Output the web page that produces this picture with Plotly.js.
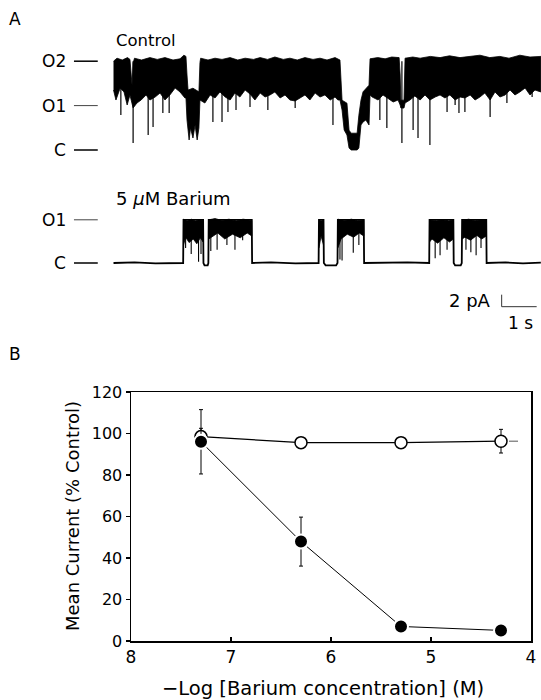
<!DOCTYPE html>
<html><head><meta charset="utf-8">
<script src="https://cdn.plot.ly/plotly-3.0.1.min.js"></script>
<style>html,body{margin:0;padding:0;background:#fff;} #chart{width:541px;height:700px;}</style>
</head><body><div id="chart"></div>
<script>
// ---------- Panel A: single-channel records (time in s, current in pA above closed level) ----------
const ctrlLevelNames = ['O2', 'O1', 'C'];
const ctrlLevels = [14.8, 7.4, 0];
const barLevelNames = ['O1', 'C'];
const barLevels = [7.2, 0];

// Control record: upper edge of the open-channel band
const ctrlTopT = [0.00,0.10,0.25,0.40,0.47,0.50,0.53,0.56,0.60,0.80,1.04,1.25,1.47,1.70,1.90,2.01,2.07,2.10,2.13,2.27,2.44,2.47,2.49,2.70,2.90,3.10,3.33,3.55,3.76,4.00,4.19,4.40,4.61,4.85,5.04,5.25,5.47,5.70,5.90,6.10,6.33,6.47,6.53,6.67,6.73,6.79,6.96,7.01,7.07,7.13,7.21,7.30,7.33,7.55,7.76,7.95,8.16,8.19,8.21,8.30,8.33,8.55,8.76,9.05,9.33,9.60,9.90,10.20,10.47,10.75,11.04,11.30,11.61,11.90,12.21];
const ctrlTopI = [14.8,15.3,15.0,15.4,15.1,12.5,10.8,14.5,15.3,15.0,15.4,15.1,15.4,15.0,15.2,15.8,15.6,12.5,10.0,10.3,9.7,14.6,15.3,15.0,15.3,15.1,15.4,15.0,15.3,15.1,15.4,15.1,15.5,15.1,15.3,15.0,15.4,15.1,15.3,15.0,15.4,15.0,8.3,7.8,3.3,2.8,2.8,5.8,8.3,9.7,10.3,10.8,15.2,15.4,15.2,15.5,15.4,12.5,8.3,8.3,15.3,15.5,15.3,15.6,15.4,15.7,15.4,15.6,15.8,15.4,15.6,15.3,15.8,15.5,15.6];
// Control record: lower (flickering) edge of the band
const ctrlBotT = [0.00,0.07,0.19,0.30,0.39,0.47,0.56,0.67,0.79,0.93,1.04,1.19,1.33,1.47,1.61,1.76,1.90,2.04,2.07,2.10,2.16,2.20,2.27,2.33,2.39,2.44,2.47,2.61,2.76,2.90,3.04,3.19,3.33,3.47,3.61,3.76,3.90,4.04,4.19,4.33,4.47,4.61,4.76,4.90,5.04,5.19,5.33,5.47,5.61,5.76,5.90,6.04,6.19,6.33,6.41,6.47,6.53,6.59,6.67,6.73,6.79,6.96,7.01,7.07,7.13,7.21,7.30,7.33,7.39,7.56,7.70,7.84,7.99,8.13,8.19,8.21,8.30,8.33,8.47,8.61,8.76,8.90,9.04,9.19,9.33,9.47,9.61,9.76,9.90,10.04,10.19,10.33,10.47,10.61,10.76,10.90,11.04,11.19,11.33,11.47,11.61,11.76,11.90,12.04,12.21];
const ctrlBotI = [10.0,8.33,10.33,9.67,7.5,9.17,7.0,7.83,8.33,9.17,8.33,8.83,9.5,8.33,9.17,10.33,9.67,8.67,8.67,5.0,1.67,3.67,2.0,4.17,1.67,3.67,8.33,7.83,9.17,8.67,9.67,8.83,8.33,9.5,8.83,10.0,9.33,8.33,9.5,8.83,9.17,9.67,8.67,9.17,8.33,8.17,8.67,9.17,8.33,9.5,8.83,9.17,8.33,8.83,8.33,8.33,6.67,3.33,2.5,0.33,0,0,0.33,4.17,4.67,5.0,4.17,9.17,8.83,8.33,9.17,8.67,8.0,8.33,7.5,7.0,7.0,7.83,8.33,9.0,8.33,9.17,8.33,8.83,9.17,8.67,9.17,8.33,8.83,8.67,9.17,8.33,8.83,9.5,8.33,9.67,8.83,9.17,10.0,9.17,9.67,10.33,9.17,10.0,9.67];
// Control record: brief deep closings (time, lowest current)
const ctrlSpikeT = [0.21,0.56,0.99,1.13,1.41,1.59,2.84,3.10,3.27,3.50,3.90,4.41,5.19,6.27,7.61,7.81,8.24,8.56,8.70,9.04,9.53,9.76,9.87,10.04,10.76,11.24,11.96];
const ctrlSpikeI = [5.83,1.17,2.5,3.83,6.17,6.17,4.67,4.67,6.33,6.67,7.17,6.67,7.0,4.17,5.0,3.67,1.17,3.33,2.0,0.83,6.33,7.5,6.17,6.33,5.5,7.83,8.83];

// 5 uM barium record: main step trace
const barLineT = [0,0.6,1.2,1.99,2.00,2.56,2.57,2.60,2.69,2.71,2.72,3.95,3.96,4.5,5.2,5.86,5.87,6.00,6.01,6.06,6.36,6.40,6.41,7.15,7.16,7.8,8.4,9.02,9.03,9.71,9.72,9.76,9.92,9.95,9.96,10.65,10.66,11.2,11.7,12.21];
const barLineI = [0,0.1,-0.05,0,7.2,7.2,0,-0.4,-0.4,0,7.2,7.2,0,0.1,-0.05,0,7.2,7.2,0,-0.4,-0.4,0,7.2,7.2,0,0.05,0.1,0,7.2,7.2,0,-0.4,-0.4,0,7.2,7.2,0,0.1,-0.05,0.05];
// flicker envelopes of the bursts
const barBurstT = [2.00,2.10,2.22,2.34,2.46,2.56, 2.56,2.48,2.38,2.28,2.16,2.06,2.00, null,
  2.72,2.90,3.10,3.30,3.50,3.70,3.95, 3.95,3.82,3.62,3.40,3.18,2.98,2.80,2.72, null,
  5.87,5.93,6.00, 6.00,5.93,5.87, null,
  6.41,6.60,6.80,7.00,7.15, 7.15,7.02,6.86,6.68,6.50,6.41, null,
  9.03,9.20,9.40,9.58,9.71, 9.71,9.60,9.44,9.26,9.10,9.03, null,
  9.96,10.15,10.35,10.50,10.65, 10.65,10.52,10.38,10.20,10.04,9.96];
const barBurstI = [7.3,7.0,7.3,7.0,7.2,7.1, 3.5,4.2,3.2,4.0,3.4,4.3,3.0, null,
  7.2,7.4,7.1,7.3,7.0,7.3,7.1, 4.5,5.0,4.2,4.8,4.0,5.0,4.3,4.0, null,
  7.2,7.0,7.2, 3.0,4.5,2.5, null,
  7.3,7.1,7.3,7.0,7.2, 4.5,5.0,4.3,4.8,4.0,2.5, null,
  7.2,7.0,7.2,7.0,7.2, 4.0,3.5,4.2,3.3,4.0,3.5, null,
  7.1,7.3,7.0,7.2,7.2, 4.5,4.0,4.6,3.8,4.3,4.0];
const barSpikeT = [2.06,2.22,2.43,2.50,2.78,2.96,3.24,3.47,3.69,6.47,6.53,6.85,7.01,9.19,9.33,9.53,10.07,10.21,10.36,10.50];
const barSpikeI = [2.5,1.5,0.2,1.5,2.0,2.2,3.0,2.2,3.8,0.6,0.4,1.7,3.0,0.8,1.3,2.2,2.2,1.8,1.3,2.5];

// calibration bar: 1 s by 2 pA
const scaleT = [11.09, 11.09, 12.09];
const scaleI = [-5.28, -7.28, -7.28];

// ---------- Panel B: dose-response ----------
const logConc = [7.3, 6.3, 5.3, 4.3];
const openY = [98.5, 95.6, 95.6, 96.3];
const openErr = [4, 0, 0, 5.7];
const filledY = [96, 47.9, 7.0, 5.1];
const filledErr = [15.5, 11.8, 0, 0];
const openTailX = [4.22, 4.07];
const openTailY = [96.3, 96.3];
const xTicks = [8, 7, 6, 5, 4];
const yTicks = [0, 20, 40, 60, 80, 100, 120];

// ---------- build ----------
const polyT = ctrlTopT.concat(ctrlBotT.slice().reverse());
const polyI = ctrlTopI.concat(ctrlBotI.slice().reverse());
function spikes(ts, is, top) {
  const x = [], y = [];
  ts.forEach((t, k) => { x.push(t, t, null); y.push(top, is[k], null); });
  return {x, y};
}
const cs = spikes(ctrlSpikeT, ctrlSpikeI, ctrlLevels[0]);
const bs = spikes(barSpikeT, barSpikeI, barLevels[0]);

const traces = [
  {x: polyT, y: polyI, xaxis:'x', yaxis:'y', mode:'lines', fill:'toself', fillcolor:'#000', line:{color:'#000', width:0.8}, hoverinfo:'skip'},
  {x: cs.x, y: cs.y, xaxis:'x', yaxis:'y', mode:'lines', line:{color:'#000', width:1.2}, hoverinfo:'skip'},
  {x: barBurstT, y: barBurstI, xaxis:'x', yaxis:'y3', mode:'lines', fill:'toself', fillcolor:'#000', line:{color:'#000', width:0.8}, hoverinfo:'skip'},
  {x: bs.x, y: bs.y, xaxis:'x', yaxis:'y3', mode:'lines', line:{color:'#000', width:1.1}, hoverinfo:'skip'},
  {x: barLineT, y: barLineI, xaxis:'x', yaxis:'y3', mode:'lines', line:{color:'#000', width:1.8}, hoverinfo:'skip'},
  {x: scaleT, y: scaleI, xaxis:'x', yaxis:'y3', mode:'lines', line:{color:'#333', width:1}, hoverinfo:'skip'},
  // panel B
  {x: openTailX, y: openTailY, xaxis:'x2', yaxis:'y2', mode:'lines', line:{color:'#555', width:1, dash:'dash'}, hoverinfo:'skip'},
  {x: logConc, y: openY, xaxis:'x2', yaxis:'y2', mode:'lines+markers',
   line:{color:'#000', width:1.2},
   marker:{symbol:'circle', size:12, color:'#fff', line:{color:'#000', width:1.5}},
   error_y:{type:'data', array:openErr, visible:true, color:'#000', thickness:1, width:2}},
  {x: logConc, y: filledY, xaxis:'x2', yaxis:'y2', mode:'lines+markers',
   line:{color:'#000', width:1},
   marker:{symbol:'circle', size:14, color:'#000', line:{color:'#fff', width:2}},
   error_y:{type:'data', array:filledErr, visible:true, color:'#000', thickness:1, width:2}}
];

const shapes = [];
const annotations = [];
const lvlX0 = -1.13, lvlX1 = -0.45, lblX = -1.30;
const lvlFont = {size:17};
ctrlLevels.forEach((v, k) => {
  const thin = ctrlLevelNames[k] === 'O1';
  shapes.push({type:'line', xref:'x', yref:'y', x0:lvlX0, x1:lvlX1, y0:v, y1:v, line:{color: thin ? '#444' : '#000', width: thin ? 1 : 1.5}});
  annotations.push({xref:'x', yref:'y', x:lblX, y:v, text:ctrlLevelNames[k], showarrow:false, xanchor:'right', yanchor:'middle', font:lvlFont});
});
barLevels.forEach((v, k) => {
  const thin = barLevelNames[k] === 'O1';
  shapes.push({type:'line', xref:'x', yref:'y3', x0:lvlX0, x1:lvlX1, y0:v, y1:v, line:{color: thin ? '#444' : '#000', width: thin ? 1 : 1.5}});
  annotations.push({xref:'x', yref:'y3', x:lblX, y:v, text:barLevelNames[k], showarrow:false, xanchor:'right', yanchor:'middle', font:lvlFont});
});
annotations.push(
  {xref:'x', yref:'y', x:0, y:18.3, text:'Control', showarrow:false, xanchor:'left', yanchor:'middle', font:{size:16.5}},
  {xref:'x', yref:'y3', x:0, y:10.83, text:'5 <i>μ</i>M Barium', showarrow:false, xanchor:'left', yanchor:'middle', font:{size:18}},
  {xref:'x', yref:'y3', x:10.83, y:-6.17, text:'2 pA', showarrow:false, xanchor:'right', yanchor:'middle', font:{size:18}},
  {xref:'x', yref:'y3', x:11.63, y:-10.0, text:'1 s', showarrow:false, xanchor:'center', yanchor:'middle', font:{size:17}},
  {xref:'paper', yref:'paper', x:15/541, y:1-19/700, text:'A', showarrow:false, xanchor:'center', yanchor:'middle', font:{size:17}},
  {xref:'paper', yref:'paper', x:15/541, y:1-354/700, text:'B', showarrow:false, xanchor:'center', yanchor:'middle', font:{size:17}},
  // axis titles of panel B
  {xref:'paper', yref:'paper', x:323/541, y:1-688/700, text:'−Log [Barium concentration] (M)', showarrow:false, xanchor:'center', yanchor:'middle', font:{size:19.5}},
  {xref:'paper', yref:'paper', x:72/541, y:1-516/700, text:'Mean Current (% Control)', showarrow:false, xanchor:'center', yanchor:'middle', textangle:-90, font:{size:18}}
);

const layout = {
  width:541, height:700, margin:{l:0, r:0, t:0, b:0},
  paper_bgcolor:'#fff', plot_bgcolor:'rgba(0,0,0,0)', showlegend:false,
  font:{family:'DejaVu Sans, sans-serif', size:16, color:'#000'},
  xaxis:{domain:[0,1], range:[-3.243, 12.214], visible:false, fixedrange:true},
  yaxis:{domain:[0,1], range:[-91.667, 25], visible:false, fixedrange:true},
  yaxis3:{range:[-72.833, 43.833], overlaying:'y', visible:false, fixedrange:true},
  xaxis2:{domain:[131/541, 531/541], anchor:'y2', range:[8, 4], tickvals:xTicks, ticktext:xTicks.map(String),
    ticks:'inside', ticklen:4, tickwidth:1.2, tickcolor:'#000', showline:true, linecolor:'#000', linewidth:1.5, mirror:true,
    showgrid:false, zeroline:false, tickfont:{size:17}},
  yaxis2:{domain:[1-641/700, 1-392/700], anchor:'x2', range:[0, 120], tickvals:yTicks, ticktext:yTicks.map(String),
    ticks:'outside', ticklen:4, tickwidth:1.2, tickcolor:'#000', showline:true, linecolor:'#000', linewidth:1.5, mirror:true,
    showgrid:false, zeroline:false, tickfont:{size:16}},
  shapes: shapes,
  annotations: annotations
};

Plotly.newPlot('chart', traces, layout, {staticPlot:true, displayModeBar:false});
</script>
</body></html>
